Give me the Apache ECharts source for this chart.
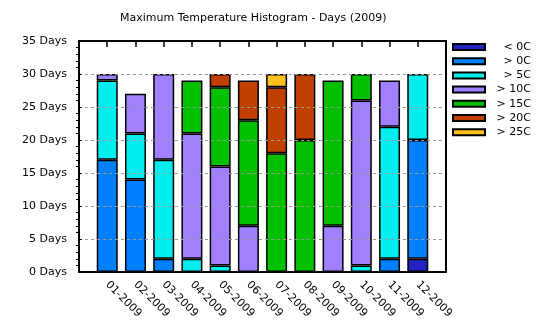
<!DOCTYPE html>
<html>
<head>
<meta charset="utf-8">
<script src="https://cdn.jsdelivr.net/npm/echarts@6/dist/echarts.min.js"></script>
<style>
  html, body { margin: 0; padding: 0; background: #fff; }
  #chart { width: 540px; height: 330px; }
</style>
</head>
<body>
<div id="chart"></div>
<script>
// Month labels for 2009
const months = ['01-2009', '02-2009', '03-2009', '04-2009', '05-2009', '06-2009',
                '07-2009', '08-2009', '09-2009', '10-2009', '11-2009', '12-2009'];

// Number of days per month whose maximum temperature falls in each band
const bandNames = ['< 0C', '> 0C', '> 5C', '> 10C', '> 15C', '> 20C', '> 25C'];
const below0  = [0, 0, 0, 0, 0, 0, 0, 0, 0, 0, 0, 2];
const above0  = [17, 14, 2, 0, 0, 0, 0, 0, 0, 0, 2, 18];
const above5  = [12, 7, 15, 2, 1, 0, 0, 0, 0, 1, 20, 10];
const above10 = [1, 6, 13, 19, 15, 7, 0, 0, 7, 25, 7, 0];
const above15 = [0, 0, 0, 8, 12, 16, 18, 20, 22, 4, 0, 0];
const above20 = [0, 0, 0, 0, 2, 6, 10, 10, 0, 0, 0, 0];
const above25 = [0, 0, 0, 0, 0, 0, 2, 0, 0, 0, 0, 0];

const bandValues = [below0, above0, above5, above10, above15, above20, above25];
const bandColors = ['#2222c0', '#0080ff', '#00eeee', '#a080ff', '#00c000', '#c04000', '#ffc020'];

// Y tick values
const yMin = 0, yMax = 35, yStep = 5;

const FONT = 'DejaVu Sans';

// Pad the month axis with an empty slot at each end so bars sit half a step in
const axisCats = [''].concat(months, ['']);
const pad = arr => ['-'].concat(arr.map(v => (v === 0 ? '-' : v)), ['-']);

const series = bandNames.map((name, i) => ({
  name: name,
  type: 'bar',
  stack: 'days',
  barWidth: 21,
  data: pad(bandValues[i]),
  itemStyle: { color: bandColors[i], borderColor: '#000', borderWidth: 1.5 },
  emphasis: { disabled: true },
  z: 3
}));

const chart = echarts.init(document.getElementById('chart'), null, { renderer: 'canvas' });
chart.setOption({
  animation: false,
  backgroundColor: '#fff',
  textStyle: { fontFamily: FONT },
  title: {
    text: 'Maximum Temperature Histogram - Days (2009)',
    left: 120,
    top: 13,
    padding: 0,
    textStyle: { fontFamily: FONT, fontSize: 11, fontWeight: 'normal', color: '#000' }
  },
  legend: {
    orient: 'vertical',
    left: 452,
    top: 40,
    padding: 0,
    itemWidth: 32,
    itemHeight: 6,
    itemGap: 0.2,
    icon: 'rect',
    selectedMode: false,
    formatter: name => '{t|' + name + '}',
    textStyle: {
      fontFamily: FONT, fontSize: 11, color: '#000', lineHeight: 14,
      rich: { t: { width: 41, align: 'right', fontFamily: FONT, fontSize: 11, lineHeight: 14 } }
    },
    data: bandNames
  },
  grid: { left: 79, right: 94, top: 41, bottom: 58, containLabel: false },
  xAxis: [
    {
      type: 'category',
      data: axisCats,
      boundaryGap: false,
      position: 'bottom',
      axisLine: { show: true, onZero: false, lineStyle: { color: '#000', width: 2 } },
      axisTick: { show: false },
      axisLabel: {
        interval: 0, rotate: -45, margin: 11,
        fontFamily: FONT, fontSize: 11, color: '#000'
      },
      splitLine: { show: false },
      z: 5
    },
    {
      // top border: one tick per month slot, spanning the same padded range
      type: 'value',
      position: 'top',
      min: 0,
      max: axisCats.length - 1,
      interval: 1,
      axisLine: { show: true, onZero: false, lineStyle: { color: '#000', width: 2 } },
      // negative length turns the ticks down into the plot
      axisTick: {
        show: true, inside: false, length: -6,
        lineStyle: { color: '#000', width: 1.5 }
      },
      axisLabel: { show: false },
      splitLine: { show: false },
      z: 5
    }
  ],
  yAxis: [
    {
      type: 'value',
      min: yMin, max: yMax, interval: yStep,
      position: 'left',
      axisLine: { show: true, onZero: false, lineStyle: { color: '#000', width: 2 } },
      axisTick: { show: true, inside: true, length: 3, lineStyle: { color: '#000', width: 1 } },
      // minor ticks point into the plot
      minorTick: { show: true, splitNumber: 5, length: -3, lineStyle: { color: '#000', width: 1 } },
      axisLabel: {
        formatter: '{value} Days', margin: 12,
        fontFamily: FONT, fontSize: 11, color: '#000'
      },
      splitLine: { show: true, lineStyle: { color: '#999', type: [3, 3], width: 1 } },
      z: 5
    },
    {
      type: 'value',
      min: yMin, max: yMax, interval: yStep,
      position: 'right',
      axisLine: { show: true, onZero: false, lineStyle: { color: '#000', width: 2 } },
      axisTick: { show: false },
      axisLabel: { show: false },
      splitLine: { show: false },
      z: 5
    }
  ],
  series: series
});
</script>
</body>
</html>
